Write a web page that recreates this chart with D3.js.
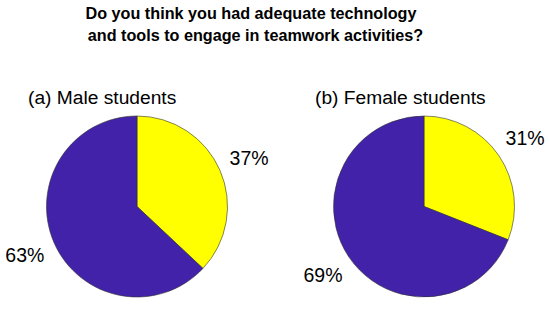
<!DOCTYPE html>
<html>
<head>
<meta charset="utf-8">
<script src="https://cdn.jsdelivr.net/npm/d3@7"></script>
<style>
  body { margin: 0; background: #fff; }
  svg { font-family: Arial, "Liberation Sans", sans-serif; }
</style>
</head>
<body>
<svg id="chart" width="550" height="309"></svg>
<script>
// data
var categories = ["Yes", "No"];
var panelTitles = ["(a) Male students", "(b) Female students"];
var maleValues = [37, 63];
var femaleValues = [31, 69];
var titleLines = ["Do you think you had adequate technology", "and tools to engage in teamwork activities?"];

var colours = d3.scaleOrdinal()
    .domain(categories)
    .range(["#ffff00", "#4122a8"]);

var svg = d3.select("#chart");

// title, two bold lines
svg.append("g").selectAll("text")
    .data(titleLines)
    .enter()
    .append("text")
    .attr("x", (d, i) => i == 0 ? 251 : 255.5)
    .attr("y", (d, i) => 18.5 + i * 22.3)
    .attr("text-anchor", "middle")
    .attr("font-size", "16.2px")
    .attr("font-weight", "bold")
    .attr("fill", "#000")
    .text(d => d);

var panels = [
    {title: panelTitles[0], values: maleValues, cx: 137, cy: 206.5, titleX: 28},
    {title: panelTitles[1], values: femaleValues, cx: 424, cy: 206.5, titleX: 315}
];

var r = 90.5;

var pie = d3.pie().sort(null).value(d => d.value);
var arc = d3.arc().innerRadius(0).outerRadius(r);
var labelArc = d3.arc().innerRadius(r * 1.35).outerRadius(r * 1.35);

panels.forEach(function(p){
    var g = svg.append("g")
        .attr("transform", "translate(" + p.cx + "," + p.cy + ")");

    var rows = categories.map((c, i) => ({name: c, value: p.values[i]}));
    var slices = pie(rows);

    g.selectAll("path")
        .data(slices)
        .enter()
        .append("path")
        .attr("d", arc)
        .attr("fill", d => colours(d.data.name))
        .attr("stroke", "#333")
        .attr("stroke-width", 0.6);

    g.selectAll("text.pct")
        .data(slices)
        .enter()
        .append("text")
        .attr("class", "pct")
        .attr("transform", d => "translate(" + labelArc.centroid(d) + ")")
        .attr("text-anchor", "middle")
        .attr("dominant-baseline", "central")
        .attr("font-size", "19.5px")
        .attr("fill", "#000")
        .text(d => d.data.value + "%");

    svg.append("text")
        .attr("x", p.titleX)
        .attr("y", 104)
        .attr("font-size", "19.2px")
        .attr("fill", "#000")
        .text(p.title);
});
</script>
</body>
</html>
